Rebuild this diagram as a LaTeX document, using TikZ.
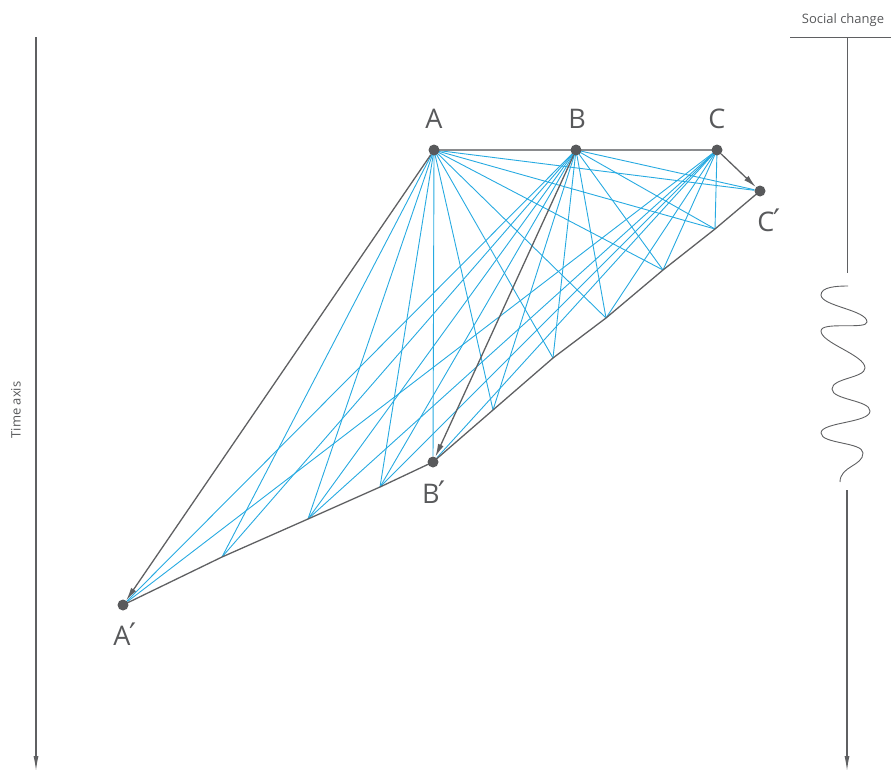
\documentclass[tikz,border=0pt]{standalone}
\usepackage{fontspec}
\setmainfont{Open Sans}
\newfontfamily\primefont{DejaVu Sans}
\usetikzlibrary{arrows.meta,backgrounds}
\definecolor{dotgray}{HTML}{58595B}
\definecolor{linegray}{HTML}{5F6062}
\definecolor{toplinegray}{HTML}{8A8B8D}
\definecolor{netblue}{HTML}{27AAE1}
\definecolor{txtgray}{HTML}{58595B}
\newcommand{\prm}{\kern-1pt{\primefont\fontsize{31}{33}\selectfont ′}}
\tikzset{
  dot/.style={circle,fill=dotgray,inner sep=0pt,minimum size=11pt},
  lbl/.style={text=txtgray,font=\fontsize{27}{30}\selectfont,inner sep=0pt},
  bl/.style={draw=netblue,line width=0.9pt},
  chain/.style={draw=linegray,line width=1.3pt},
  topchain/.style={draw=toplinegray,line width=2pt},
  move/.style={draw=linegray,line width=1.3pt,-{Latex[length=13pt,width=6pt]}},
  axisline/.style={draw=linegray,line width=1.1pt,-{Latex[length=15pt,width=5pt]}},
  thin/.style={draw=linegray,line width=0.9pt},
  small/.style={text=txtgray,font=\fontsize{13}{15}\selectfont,inner sep=0pt}
}
\begin{document}
\begin{tikzpicture}[x=1pt,y=-1pt]
\useasboundingbox (0,0) rectangle (891,771);
% main nodes
\node[dot] (A) at (434,150) {};
\node[dot] (B) at (576,150) {};
\node[dot] (C) at (717,150) {};
\node[dot] (Cp) at (760,191) {};
\node[dot] (Bp) at (433,462) {};
\node[dot] (Ap) at (123,605) {};
% intermediate points
\coordinate (P1) at (222,557);
\coordinate (P2) at (308,519);
\coordinate (P3) at (380,487);
\coordinate (Q1) at (493,410);
\coordinate (Q2) at (553,358);
\coordinate (Q3) at (606,318);
\coordinate (Q4) at (663,270);
\coordinate (Q5) at (715,229);
% labels
\node[lbl] (lA) at (434,119) {A};
\node[lbl] (lB) at (577,119) {B};
\node[lbl] (lC) at (717,119) {C};
\node[lbl] (lCp) at (769,220) {C\prm};
\node[lbl] (lBp) at (434,492) {B\prm};
\node[lbl] (lAp) at (125,634) {A\prm};
\begin{scope}[on background layer]
  % blue network
  \foreach \t in {P1,P2,P3,Bp,Q1,Q2,Q3,Q4,Q5,Cp} \draw[bl] (A.center) -- (\t);
  \foreach \t in {Ap,P1,P2,P3,Q1,Q2,Q3,Q4,Q5,Cp} \draw[bl] (B.center) -- (\t);
  \foreach \t in {Ap,P2,P3,Bp,Q3,Q4,Q5} \draw[bl] (C.center) -- (\t);
  % chains
  \draw[topchain] (A.center) -- (B.center) -- (C.center);
  \draw[chain] (Ap.center) -- (P1) -- (P2) -- (P3) -- (Bp.center) -- (Q1) -- (Q2) -- (Q3) -- (Q4) -- (Q5) -- (Cp.center);
\end{scope}
% movement arrows
\draw[move] (A) -- (Ap);
\draw[move] (B) -- (Bp);
\draw[move] (C) -- (Cp);
% time axis
\coordinate (t0) at (36,37);
\coordinate (t1) at (36,771);
\draw[axisline] (t0) -- (t1);
\node[small,rotate=90] (time) at (16,410) {Time axis};
% social change axis
\node[small] (soc) at (843,20) {Social change};
\coordinate (h0) at (790,37);
\coordinate (h1) at (891,37);
\coordinate (s0) at (847,37);
\coordinate (s1) at (847,273);
\coordinate (s2) at (847,490);
\coordinate (s3) at (847,771);
\draw[thin] (h0) -- (h1);
\draw[thin] (s0) -- (s1);
\draw[axisline] (s2) -- (s3);
\draw[thin] (848,286) .. controls (836,286) and (821,287) .. (821,295)
  .. controls (821,306) and (867,310) .. (867,322)
  .. controls (867,330) and (821,321) .. (821,331)
  .. controls (821,343) and (865,355) .. (865,368)
  .. controls (865,378) and (832,378) .. (832,389)
  .. controls (832,400) and (870,400) .. (870,411)
  .. controls (870,423) and (821,422) .. (821,433)
  .. controls (821,444) and (863,442) .. (863,453)
  .. controls (863,466) and (840,466) .. (840,482);
\end{tikzpicture}
\end{document}
